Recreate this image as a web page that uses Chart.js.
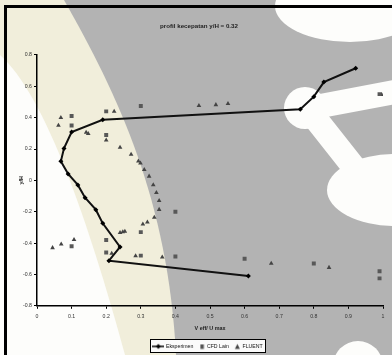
<!DOCTYPE html>
<html>
<head>
<meta charset="utf-8">
<script src="https://cdn.jsdelivr.net/npm/chart.js@4.4.0/dist/chart.umd.min.js"></script>
<style>
  html, body { margin: 0; padding: 0; background: #fff; }
  #wrap { width: 392px; height: 355px; }
</style>
</head>
<body>
<div id="wrap"><canvas id="profil" width="392" height="355"></canvas></div>
<script>
// Eksperimen (line with markers)
const eksX = [0.921, 0.829, 0.800, 0.761, 0.190, 0.100, 0.078, 0.069, 0.090, 0.118, 0.139, 0.170, 0.190, 0.240, 0.208, 0.611];
const eksY = [0.715, 0.627, 0.534, 0.454, 0.386, 0.308, 0.204, 0.122, 0.041, -0.029, -0.111, -0.187, -0.274, -0.425, -0.512, -0.610];

// CFD Lain (squares)
const cfdX = [0.10, 0.10, 0.20, 0.30, 0.20, 0.40, 0.30, 0.30, 0.40, 0.10, 0.20, 0.20, 0.60, 0.80, 0.99, 0.99, 0.99];
const cfdY = [0.41, 0.35, 0.44, 0.475, 0.29, -0.20, -0.33, -0.48, -0.485, -0.42, -0.38, -0.46, -0.50, -0.53, -0.58, -0.625, 0.55];

// FLUENT (triangles)
const fluentX = [0.069, 0.062, 0.223, 0.468, 0.517, 0.552, 0.142, 0.148, 0.200, 0.240, 0.272, 0.293, 0.299, 0.310, 0.324, 0.336, 0.345, 0.353, 0.353, 0.339, 0.319, 0.306, 0.254, 0.248, 0.240, 0.045, 0.070, 0.107, 0.216, 0.285, 0.362, 0.677, 0.844, 0.996];
const fluentY = [0.400, 0.350, 0.440, 0.476, 0.482, 0.489, 0.306, 0.298, 0.257, 0.210, 0.166, 0.122, 0.110, 0.068, 0.026, -0.029, -0.078, -0.130, -0.186, -0.236, -0.267, -0.280, -0.326, -0.329, -0.334, -0.430, -0.407, -0.378, -0.466, -0.482, -0.490, -0.530, -0.556, 0.547];

const xTickValues = [0, 0.1, 0.2, 0.3, 0.4, 0.5, 0.6, 0.7, 0.8, 0.9, 1];
const xTickLabels = ['0', '0.1', '0.2', '0.3', '0.4', '0.5', '0.6', '0.7', '0.8', '0.9', '1'];
const yTickValues = [-0.8, -0.6, -0.4, -0.2, 0, 0.2, 0.4, 0.6, 0.8];
const yTickLabels = ['-0.8', '-0.6', '-0.4', '-0.2', '0', '0.2', '0.4', '0.6', '0.8'];

const seriesNames = ['Eksperimen', 'CFD Lain', 'FLUENT'];

const FONT = '"Liberation Sans", Arial, sans-serif';

function toPoints(xs, ys) {
  return xs.map((x, i) => ({ x: x, y: ys[i] }));
}

// small canvases used as legend markers
function legendMark(kind) {
  const c = document.createElement('canvas');
  c.width = 12; c.height = 8;
  const g = c.getContext('2d');
  g.fillStyle = kind === 'line' ? '#000' : (kind === 'rect' ? '#555' : '#444');
  g.strokeStyle = '#000';
  if (kind === 'line') {
    g.lineWidth = 1.5;
    g.beginPath(); g.moveTo(0, 4); g.lineTo(12, 4); g.stroke();
    g.beginPath(); g.moveTo(6, 1.5); g.lineTo(8.5, 4); g.lineTo(6, 6.5); g.lineTo(3.5, 4); g.closePath(); g.fill();
  } else if (kind === 'rect') {
    g.fillRect(7, 2, 3.5, 4.5);
  } else {
    g.beginPath(); g.moveTo(8.5, 1.5); g.lineTo(11, 6.5); g.lineTo(6, 6.5); g.closePath(); g.fill();
  }
  return c;
}
const legendMarks = [legendMark('line'), legendMark('rect'), legendMark('tri')];

function legendRect(chart) {
  const boxes = chart.legend && chart.legend.legendHitBoxes;
  if (!boxes || !boxes.length) return null;
  const left = Math.min(...boxes.map(b => b.left)) - 3;
  const right = Math.max(...boxes.map(b => b.left + b.width)) + 3;
  const mid = boxes[0].top + boxes[0].height / 2;
  return { x: Math.round(left) + 0.5, y: Math.round(mid - 7) + 0.5, w: Math.round(right - left), h: 13 };
}

// watermark-like background and the frame of the scanned figure
const backdrop = {
  id: 'backdrop',
  afterLayout(chart) {
    // legend row sits a little right of the centre in the original
    chart.legend.left += 9;
    chart.legend.right += 9;
  },
  beforeDraw(chart) {
    const ctx = chart.ctx;
    ctx.save();
    ctx.fillStyle = '#b3b3b3';
    ctx.fillRect(0, 0, chart.width, chart.height);

    ctx.fillStyle = '#f1eedb';
    ctx.beginPath();
    ctx.moveTo(0, 0); ctx.lineTo(64, 0);
    ctx.bezierCurveTo(118, 95, 168, 200, 176, 355);
    ctx.lineTo(0, 355); ctx.closePath(); ctx.fill();

    ctx.fillStyle = '#fdfdfb';
    ctx.beginPath();
    ctx.moveTo(0, 55);
    ctx.bezierCurveTo(45, 95, 88, 220, 125, 355);
    ctx.lineTo(0, 355); ctx.closePath(); ctx.fill();

    ctx.beginPath(); ctx.ellipse(350, 6, 75, 36, 0, 0, Math.PI * 2); ctx.fill();
    ctx.beginPath(); ctx.arc(305, 108, 21, 0, Math.PI * 2); ctx.fill();
    ctx.strokeStyle = '#fdfdfb';
    ctx.lineCap = 'round';
    ctx.lineWidth = 24;
    ctx.beginPath(); ctx.moveTo(310, 108); ctx.lineTo(395, 92); ctx.stroke();
    ctx.beginPath(); ctx.moveTo(315, 118); ctx.lineTo(360, 175); ctx.stroke();
    ctx.beginPath(); ctx.ellipse(395, 190, 68, 36, 0, 0, Math.PI * 2); ctx.fill();
    ctx.beginPath(); ctx.arc(358, 366, 25, 0, Math.PI * 2); ctx.fill();

    const r = legendRect(chart);
    if (r) {
      ctx.fillStyle = '#fbfbfb';
      ctx.fillRect(r.x, r.y, r.w, r.h);
    }

    ctx.fillStyle = '#000';
    ctx.fillRect(4, 5, 3, 350);
    ctx.fillRect(4, 5, 388, 3);
    ctx.restore();
  },
  afterDraw(chart) {
    const r = legendRect(chart);
    if (!r) return;
    const ctx = chart.ctx;
    ctx.save();
    ctx.strokeStyle = '#000';
    ctx.lineWidth = 1;
    ctx.strokeRect(r.x, r.y, r.w, r.h);
    ctx.restore();
  }
};

new Chart('profil', {
  type: 'scatter',
  data: {
    datasets: [
      {
        label: seriesNames[0],
        data: toPoints(eksX, eksY),
        showLine: true,
        borderColor: '#111',
        borderWidth: 2,
        pointStyle: 'rectRot',
        pointRadius: 2.5,
        pointBackgroundColor: '#000',
        pointBorderColor: '#000',
        pointBorderWidth: 0,
        tension: 0
      },
      {
        label: seriesNames[1],
        data: toPoints(cfdX, cfdY),
        pointStyle: 'rect',
        pointRadius: 2.8,
        pointBackgroundColor: '#585858',
        pointBorderWidth: 0
      },
      {
        label: seriesNames[2],
        data: toPoints(fluentX, fluentY),
        pointStyle: 'triangle',
        pointRadius: 2.7,
        pointBackgroundColor: '#444',
        pointBorderWidth: 0
      }
    ]
  },
  options: {
    responsive: false,
    animation: false,
    devicePixelRatio: 1,
    layout: { padding: { top: 14, left: 15, right: 9, bottom: -4 } },
    plugins: {
      title: {
        display: true,
        text: 'profil kecepatan y/H = 0.32',
        color: '#222',
        font: { family: FONT, size: 6.2, weight: 'bold' },
        padding: { top: 9, bottom: 24.5 }
      },
      legend: {
        position: 'bottom',
        labels: {
          color: '#111',
          font: { family: FONT, size: 5.2 },
          usePointStyle: true,
          pointStyleWidth: 10,
          padding: 1,
          generateLabels(chart) {
            return seriesNames.map((name, i) => ({
              text: name,
              pointStyle: legendMarks[i],
              datasetIndex: i,
              hidden: false,
              lineWidth: 0,
              fontColor: '#111'
            }));
          }
        }
      },
      tooltip: { enabled: false }
    },
    scales: {
      x: {
        type: 'linear',
        min: 0,
        max: 1,
        afterBuildTicks(scale) { scale.ticks = xTickValues.map(v => ({ value: v })); },
        afterFit(scale) { scale.height = 37; },
        ticks: {
          color: '#333',
          font: { family: FONT, size: 5.2 },
          padding: 4.5,
          maxRotation: 0,
          autoSkip: false,
          callback: (v, i) => xTickLabels[i]
        },
        grid: { drawOnChartArea: false, drawTicks: true, tickLength: 3, color: '#000' },
        border: { display: true, color: '#000', width: 1.5 },
        title: {
          display: true,
          text: 'V eff/ U max',
          color: '#222',
          font: { family: FONT, size: 5.4, weight: 'bold' },
          padding: { top: 0, bottom: 11.5 }
        }
      },
      y: {
        type: 'linear',
        min: -0.8,
        max: 0.8,
        afterBuildTicks(scale) { scale.ticks = yTickValues.map(v => ({ value: v })); },
        afterFit(scale) { scale.width = 22; },
        ticks: {
          color: '#333',
          font: { family: FONT, size: 5.2 },
          padding: 2,
          autoSkip: false,
          callback: (v, i) => yTickLabels[i]
        },
        grid: { drawOnChartArea: false, drawTicks: true, tickLength: 3, color: '#000' },
        border: { display: true, color: '#000', width: 1.5 },
        title: {
          display: true,
          text: 'y/H',
          color: '#222',
          font: { family: FONT, size: 5.4, weight: 'bold' },
          padding: { top: 3, bottom: 2 }
        }
      }
    }
  },
  plugins: [backdrop]
});
</script>
</body>
</html>
